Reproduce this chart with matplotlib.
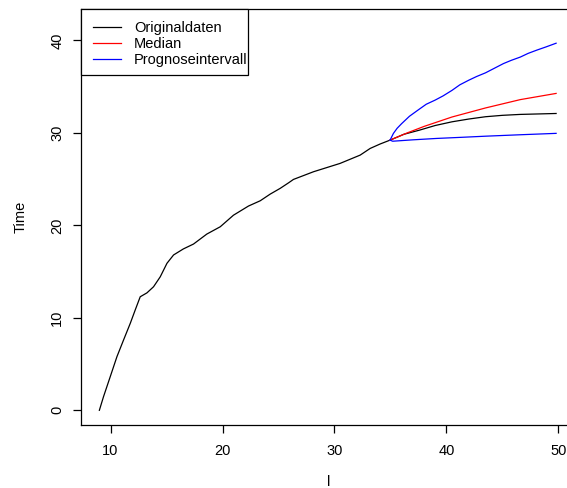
import matplotlib
matplotlib.use("Agg")
import matplotlib.pyplot as plt
from matplotlib.patches import Rectangle

plt.rcParams['font.family'] = ['Liberation Sans', 'DejaVu Sans']

# Original data
orig_x = [9.0, 9.37, 9.97, 10.57, 11.16, 11.76, 12.2, 12.65, 13.25, 13.84, 14.44, 15.04,
          15.63, 16.5, 17.41, 18.6, 19.8, 20.98, 22.32, 23.37, 24.26, 25.15, 25.9, 26.34,
          28.13, 30.5, 32.3, 33.19, 34.08, 34.97, 36.2, 37.6, 39.0, 40.5, 42.0, 43.5,
          45.0, 46.6, 48.2, 49.8]
orig_y = [0.0, 1.47, 3.63, 5.8, 7.6, 9.4, 10.84, 12.28, 12.7, 13.36, 14.44, 15.9,
          16.8, 17.45, 17.98, 19.06, 19.85, 21.1, 22.09, 22.66, 23.38, 24.0, 24.6, 24.97,
          25.8, 26.7, 27.6, 28.32, 28.8, 29.22, 29.85, 30.3, 30.8, 31.2, 31.5, 31.75,
          31.9, 32.0, 32.05, 32.1]

# Forecast median
med_x = [34.97, 36.5, 38.0, 40.5, 43.5, 46.6, 49.8]
med_y = [29.22, 30.0, 30.7, 31.72, 32.7, 33.6, 34.27]

# Forecast interval (upper / lower)
up_x = [34.97, 35.27, 35.6, 36.0, 36.7, 37.5, 38.2, 39.0, 39.7, 40.5, 41.2, 42.0,
        42.7, 43.5, 44.3, 45.1, 45.8, 46.6, 47.3, 48.07, 48.9, 49.8]
up_y = [29.22, 29.95, 30.5, 31.0, 31.8, 32.5, 33.1, 33.55, 34.0, 34.6, 35.2, 35.7,
        36.1, 36.5, 37.0, 37.5, 37.85, 38.2, 38.6, 38.95, 39.3, 39.7]
lo_x = [34.97, 35.2, 37.0, 39.1, 41.3, 43.6, 46.6, 49.8]
lo_y = [29.22, 29.1, 29.25, 29.4, 29.52, 29.65, 29.8, 29.95]

x_ticks = [10, 20, 30, 40, 50]
y_ticks = [0, 10, 20, 30, 40]

W, H = 567, 488
fig = plt.figure(figsize=(W / 100, H / 100), dpi=100)
ax_l, ax_r, ax_t, ax_b = 81, 576.7, 9, 425
ax = fig.add_axes([ax_l / W, 1 - ax_b / H, (ax_r - ax_l) / W, (ax_b - ax_t) / H])

lw = 0.9
ax.plot(orig_x, orig_y, color='black', lw=lw, label='Originaldaten')
ax.plot(med_x, med_y, color='red', lw=lw, label='Median')
ax.plot(up_x, up_y, color='blue', lw=lw, label='Prognoseintervall')
ax.plot(lo_x, lo_y, color='blue', lw=lw)

ax.set_xlim(7.36, 51.64)
ax.set_ylim(-1.59, 43.4)
ax.set_xticks(x_ticks)
ax.set_yticks(y_ticks)
ax.tick_params(axis='both', direction='out', length=6, width=0.9, labelsize=10.5, pad=6)
ax.tick_params(axis='x', pad=8)
for lab in ax.get_yticklabels():
    lab.set_rotation(90)
    lab.set_va('center')
for s in ax.spines.values():
    s.set_linewidth(0.9)

ax.set_xlabel('l', fontsize=10.5, labelpad=12)
ax.set_ylabel('Time', fontsize=10.5, labelpad=16)

leg = ax.legend(loc='upper left', bbox_to_anchor=(0, 1), borderaxespad=0,
                frameon=False, fontsize=10.5,
                handlelength=1.9, handletextpad=0.9, labelspacing=0.13,
                borderpad=0.83)

# legend frame (R style: tight on the right)
box_w = (248 - ax_l) / (ax_r - ax_l)
box_h = (75 - ax_t) / (ax_b - ax_t)
ax.add_patch(Rectangle((0, 1 - box_h), box_w, box_h, transform=ax.transAxes,
                       fill=True, facecolor='white', edgecolor='black', lw=0.9,
                       zorder=4, clip_on=False))
leg.set_zorder(5)

fig.savefig('out.png', dpi=100)
